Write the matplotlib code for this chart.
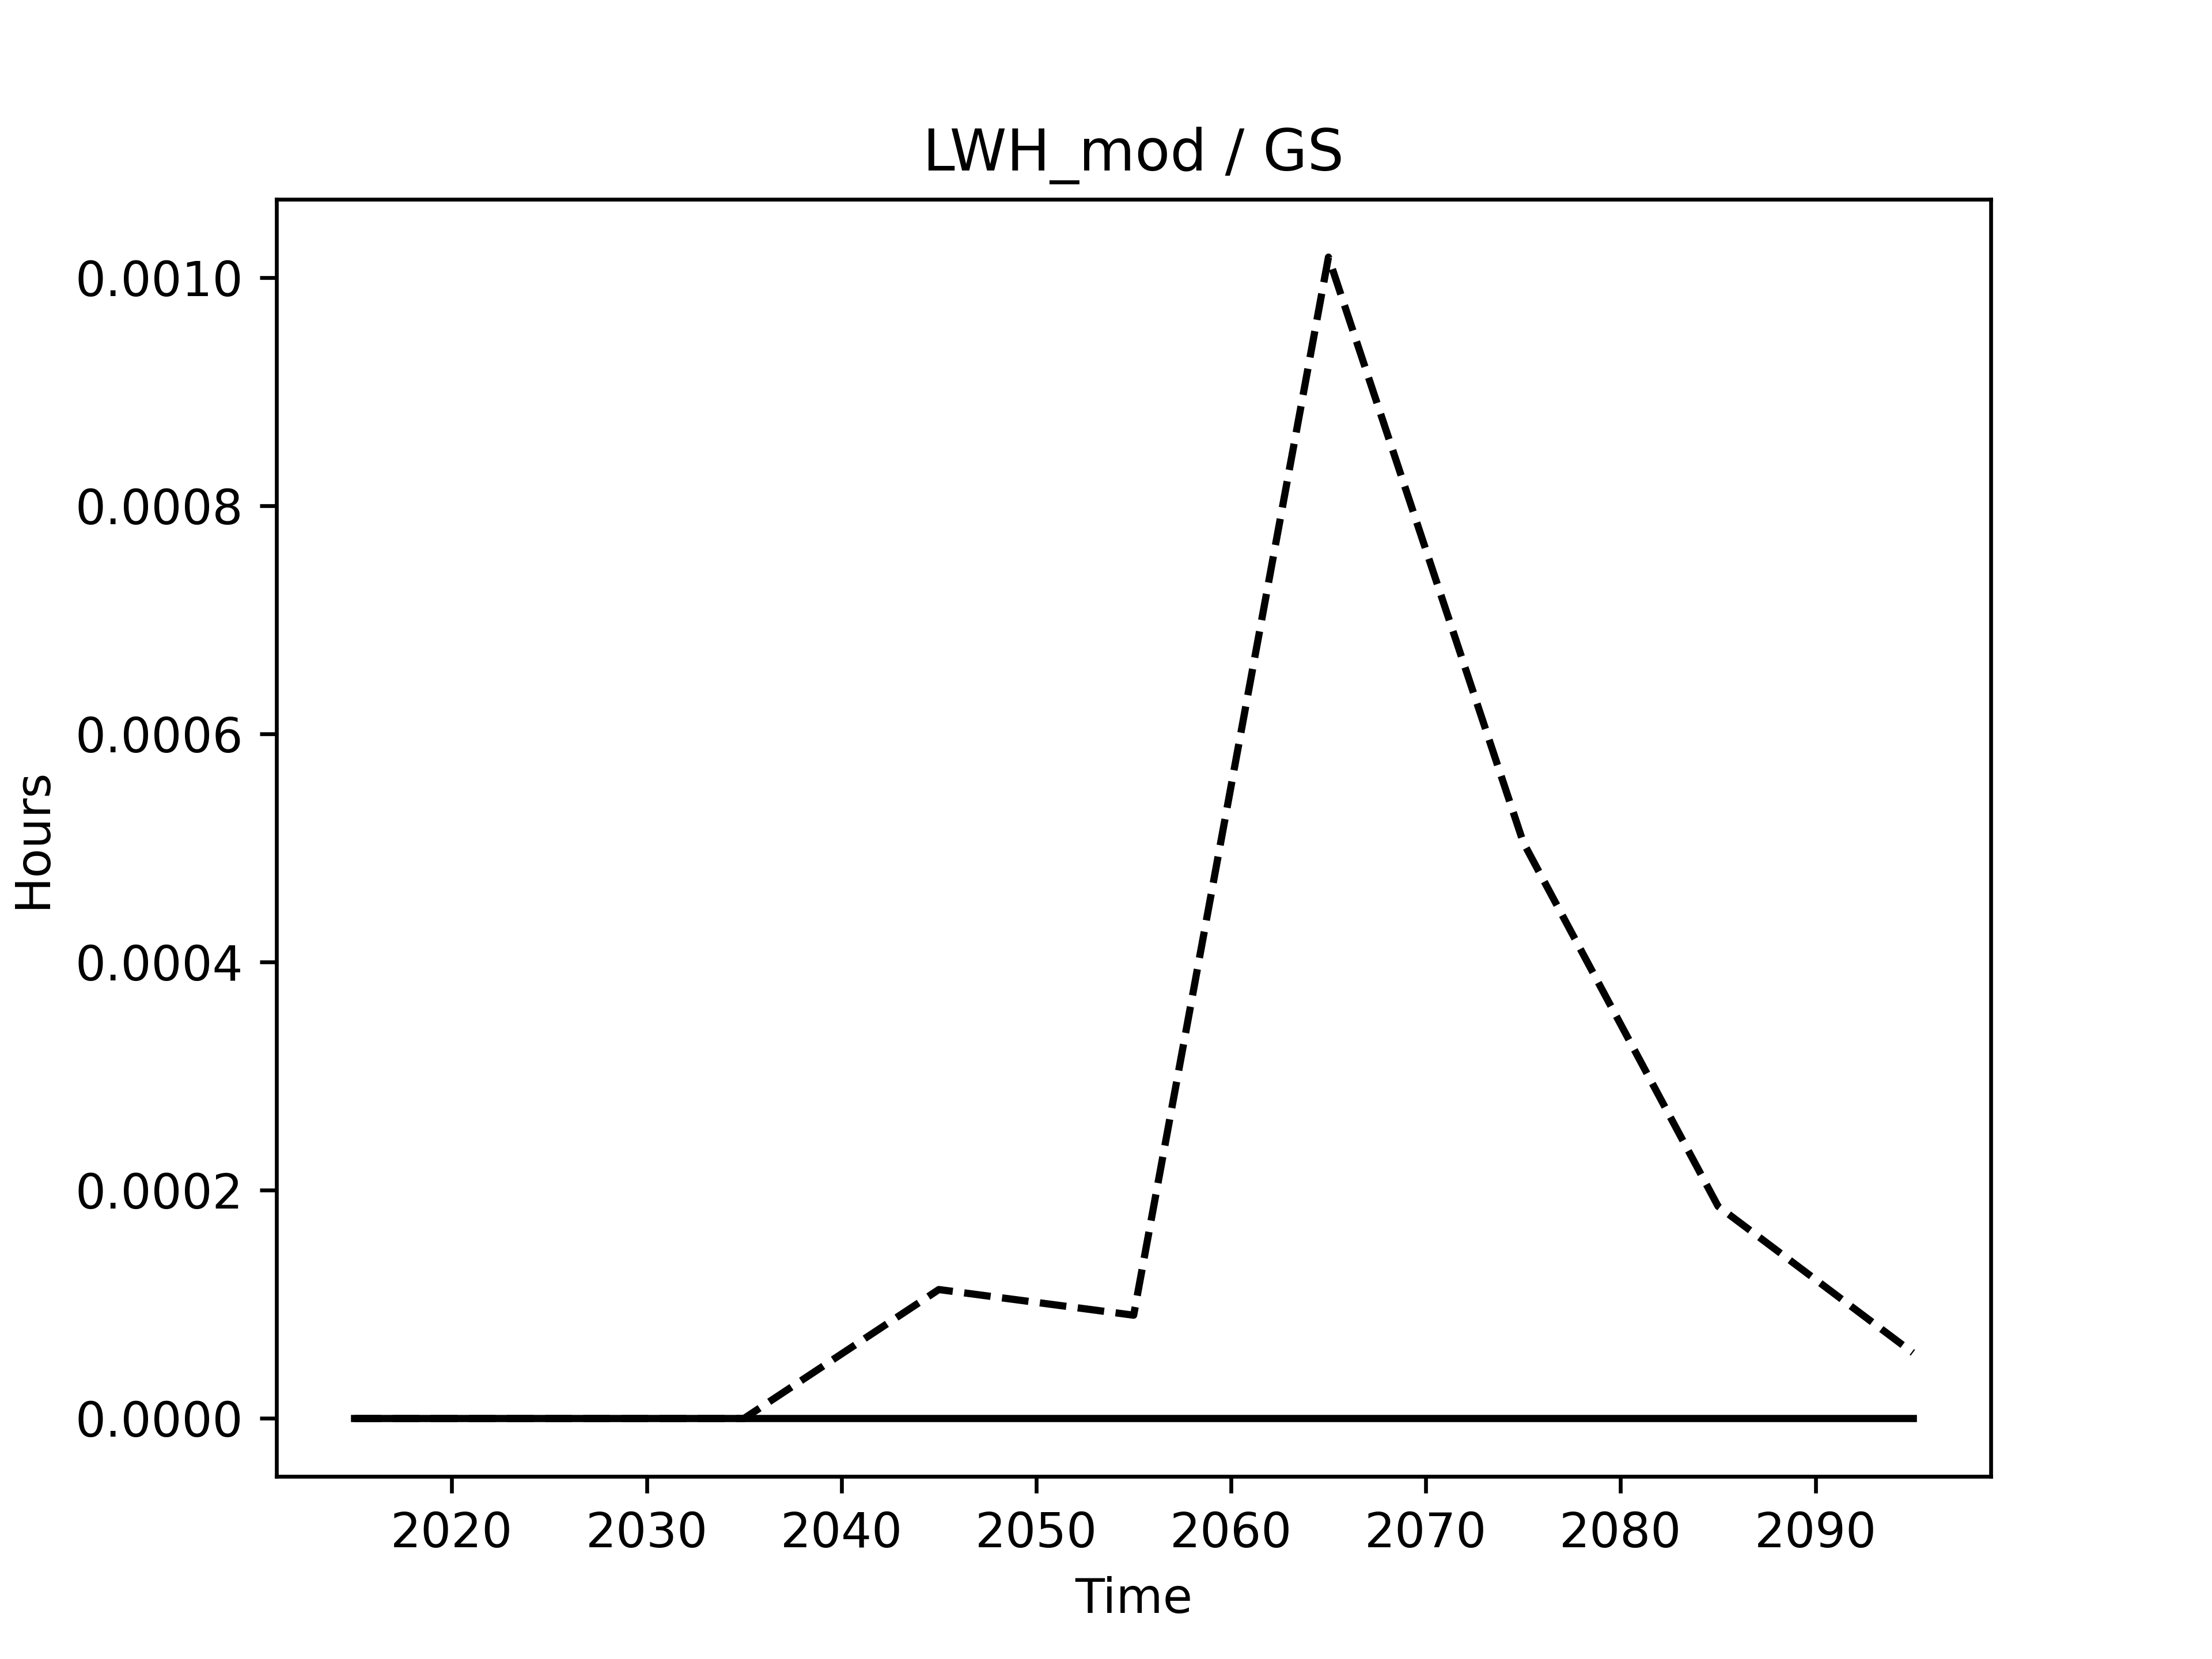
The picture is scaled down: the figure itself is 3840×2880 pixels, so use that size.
import matplotlib
matplotlib.use("Agg")
import matplotlib.pyplot as plt

years = [2015, 2025, 2035, 2045, 2055, 2065, 2075, 2085, 2095]
dashed_values = [0.0, 0.0, 0.0, 0.000113, 0.0000905, 0.001018, 0.000505, 0.000186, 0.0000576]
solid_values = [0.0, 0.0, 0.0, 0.0, 0.0, 0.0, 0.0, 0.0, 0.0]

fig, ax = plt.subplots(figsize=(6.4, 4.8), dpi=600)
ax.plot(years, dashed_values, 'k--')
ax.plot(years, solid_values, 'k-')
ax.set_title("LWH_mod / GS")
ax.set_xlabel("Time")
ax.set_ylabel("Hours")
fig.savefig("out.png", dpi=600)
